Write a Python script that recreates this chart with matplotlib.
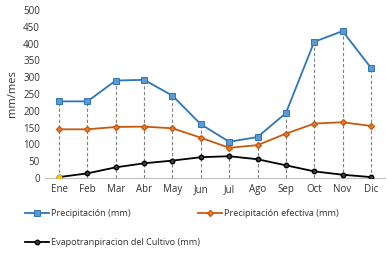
import numpy as np
import matplotlib.pyplot as plt

plt.rcParams['font.family'] = ['Open Sans', 'DejaVu Sans']

meses = ["Ene", "Feb", "Mar", "Abr", "May", "Jun", "Jul", "Ago", "Sep", "Oct", "Nov", "Dic"]
precipitacion = [228, 228, 290, 292, 245, 160, 108, 122, 193, 405, 437, 328]
efectiva = [145, 145, 152, 153, 148, 120, 90, 98, 132, 162, 166, 155]
etc = [3, 14, 32, 44, 52, 62, 65, 56, 38, 20, 10, 3]

x = np.arange(len(meses))

fig = plt.figure(figsize=(3.87, 2.67), dpi=100)
ax = fig.add_axes([0.116, 0.333, 0.879, 0.63])

# lineas de caida
ax.vlines(x, 0, precipitacion, colors='#808080', linestyles=(0, (3, 2)), linewidth=0.8, zorder=1)

l1, = ax.plot(x, precipitacion, color='#2E75B6', linewidth=1.3, marker='s', markersize=4.3,
              markerfacecolor='#5B9BD5', markeredgecolor='#2E75B6', markeredgewidth=0.7,
              label="Precipitación (mm)", zorder=3)
l2, = ax.plot(x, efectiva, color='#C55A11', linewidth=1.3, marker='D', markersize=3,
              markerfacecolor='#ED7D31', markeredgecolor='#C55A11',
              label="Precipitación efectiva (mm)", zorder=3)
l3, = ax.plot(x, etc, color='black', linewidth=1.3, marker='o', markersize=3.2,
              markerfacecolor='#404040', markeredgecolor='black',
              label="Evapotranpiracion del Cultivo (mm)", zorder=3)
ax.plot(x[0], etc[0], marker='o', markersize=3.2, color='#FFC000', zorder=4)

ax.set_xlim(-0.5, len(meses) - 0.5)
ax.set_ylim(0, 500)
ax.set_yticks(np.arange(0, 501, 50))
ax.set_xticks(x)
ax.set_xticklabels(meses)
ax.tick_params(axis='both', length=0, labelsize=7, colors='#333333')
ax.tick_params(axis='x', pad=4)
for s in ['top', 'right', 'left']:
    ax.spines[s].set_visible(False)
ax.spines['bottom'].set_color('#BFBFBF')
ax.set_ylabel("mm/mes", fontsize=8, color='#333333', labelpad=4)

# leyenda en tres posiciones
posiciones = [(l1, 25 / 387, 0.199), (l2, 198 / 387, 0.199), (l3, 25 / 387, 0.09)]
for linea, px, py in posiciones:
    fig.legend(handles=[linea], loc='center left', bbox_to_anchor=(px, py), frameon=False,
               fontsize=6.6, handlelength=2.6, handletextpad=0.2, borderaxespad=0,
               borderpad=0, labelcolor='#333333')

fig.savefig("out.png", dpi=100)
